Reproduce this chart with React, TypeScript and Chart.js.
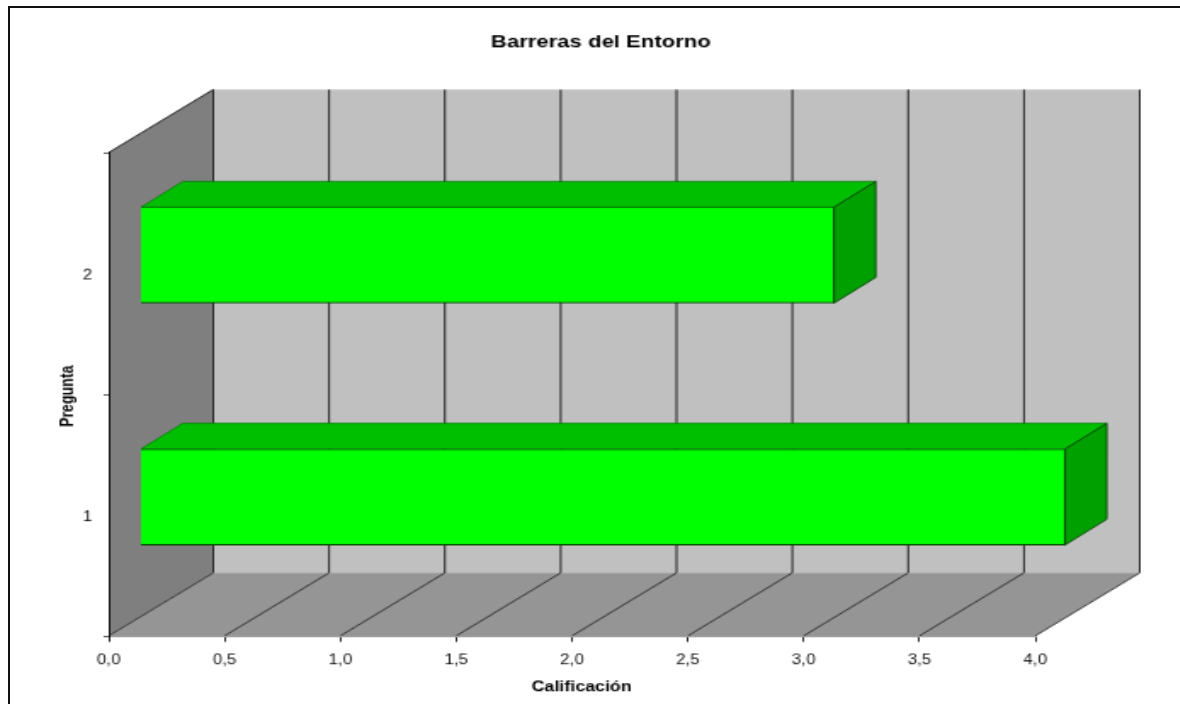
import React, { useEffect, useRef } from "react";
import { Chart, registerables } from "chart.js";

Chart.register(...registerables);

const categories = ["1", "2"];
const scores = [4, 3];
const categoryPositions = [1, 2];
const chartTitle = "Barreras del Entorno";
const xAxisTitle = "Calificación";
const yAxisTitle = "Pregunta";

const FONT = "'Liberation Sans', Arial, sans-serif";
const SX = 1.7;
const SY = 1.35;
const WALL_DX = 61.5;
const WALL_DY = 46.7;
const BAR_DX = 24.5;
const BAR_DY = 19;

const poly = (ctx: CanvasRenderingContext2D, pts: number[][], fill?: string, stroke?: string, lw = 0.9) => {
  ctx.beginPath();
  pts.forEach(([x, y], i) => (i ? ctx.lineTo(x, y) : ctx.moveTo(x, y)));
  ctx.closePath();
  if (fill) {
    ctx.fillStyle = fill;
    ctx.fill();
  }
  if (stroke) {
    ctx.strokeStyle = stroke;
    ctx.lineWidth = lw;
    ctx.stroke();
  }
};

const seg = (ctx: CanvasRenderingContext2D, a: number[], b: number[], color: string, lw = 1) => {
  ctx.beginPath();
  ctx.moveTo(a[0], a[1]);
  ctx.lineTo(b[0], b[1]);
  ctx.strokeStyle = color;
  ctx.lineWidth = lw;
  ctx.stroke();
};

// Moves what one of a scale's own draw steps paints, by a small offset.
const nudge = (scale: any, method: string, dx: number, dy: number) => {
  const flag = `_nudged_${method}`;
  if (scale[flag]) return;
  scale[flag] = true;
  const original = scale[method].bind(scale);
  scale[method] = (...args: any[]) => {
    scale.ctx.save();
    scale.ctx.translate(dx, dy);
    original(...args);
    scale.ctx.restore();
  };
};

const box3d = {
  id: "box3d",
  beforeDraw(chart: any) {
    const { ctx, chartArea: a, scales } = chart;
    const { left: l, right: r, top: t, bottom: b } = a;
    ctx.save();
    poly(ctx, [[l + WALL_DX, t - WALL_DY], [r + WALL_DX, t - WALL_DY], [r + WALL_DX, b - WALL_DY], [l + WALL_DX, b - WALL_DY]], "#c0c0c0");
    poly(ctx, [[l, t], [l + WALL_DX, t - WALL_DY], [l + WALL_DX, b - WALL_DY], [l, b]], "#7f7f7f");
    poly(ctx, [[l, b], [l + WALL_DX, b - WALL_DY], [r + WALL_DX, b - WALL_DY], [r, b]], "#959595");
    seg(ctx, [l, t], [l + WALL_DX, t - WALL_DY], "#222222");
    for (const tick of scales.x.ticks) {
      const x = scales.x.getPixelForValue(tick.value);
      seg(ctx, [x + WALL_DX, t - WALL_DY], [x + WALL_DX, b - WALL_DY], "#222222");
      seg(ctx, [x, b], [x + WALL_DX, b - WALL_DY], "#1a1a1a", 0.8);
    }
    ctx.restore();
  },
  afterDatasetsDraw(chart: any) {
    const { ctx } = chart;
    const edge = "#003a00";
    ctx.save();
    for (const bar of chart.getDatasetMeta(0).data) {
      const { x, y, base, height } = bar.getProps(["x", "y", "base", "height"], true);
      const top = y - height / 2;
      const bottom = y + height / 2;
      poly(ctx, [[base, top], [base + BAR_DX, top - BAR_DY], [x + BAR_DX, top - BAR_DY], [x, top]], "#00bf00", "#007a00", 0.7);
      poly(ctx, [[x, top], [x + BAR_DX, top - BAR_DY], [x + BAR_DX, bottom - BAR_DY], [x, bottom]], "#00a000", edge, 0.8);
    }
    ctx.restore();
  },
};

export default function App() {
  const ref = useRef<HTMLCanvasElement>(null);
  useEffect(() => {
    const chart = new Chart(ref.current as HTMLCanvasElement, {
      type: "bar",
      data: {
        labels: categories,
        datasets: [
          {
            label: yAxisTitle,
            data: scores.map((x, i) => ({ x, y: categoryPositions[i] })),
            xAxisID: "xBar",
            yAxisID: "yBar",
            backgroundColor: "#00ff00",
            borderColor: "#003a00",
            borderWidth: 1,
            barThickness: 71,
            clip: false,
          } as any,
        ],
      },
      options: {
        indexAxis: "y",
        responsive: false,
        animation: false,
        devicePixelRatio: 1,
        layout: { padding: 0 },
        plugins: {
          legend: { display: false },
          tooltip: { enabled: false },
          title: {
            display: true,
            text: chartTitle,
            color: "#000000",
            font: { family: FONT, size: 13, weight: "bold" },
            padding: { top: 23.3, bottom: 74.1 },
          },
        },
        scales: {
          x: {
            type: "linear",
            axis: "x",
            position: "bottom",
            min: 0,
            max: 4,
            afterFit: (s: any) => {
              s.height = 51;
            },
            afterUpdate: (s: any) => nudge(s, "drawTitle", 5.7, 0),
            title: {
              display: true,
              text: xAxisTitle,
              color: "#000000",
              font: { family: FONT, size: 10.5, weight: "bold" },
              padding: { top: 0, bottom: 6.7 },
            },
            ticks: {
              stepSize: 0.5,
              maxRotation: 0,
              autoSkip: false,
              padding: 7.5,
              color: "#111111",
              font: { family: FONT, size: 10 },
              callback: (v: any) => Number(v).toFixed(1).replace(".", ","),
            },
            grid: { drawOnChartArea: false, drawTicks: true, tickLength: 4.4, color: "#222222", offset: false },
            border: { display: true, color: "#a0a0a0" },
          },
          y: {
            type: "category",
            axis: "y",
            position: "left",
            reverse: true,
            offset: true,
            afterFit: (s: any) => {
              s.width = 51;
            },
            afterUpdate: (s: any) => {
              nudge(s, "drawLabels", 0, 2);
              nudge(s, "drawTitle", 0, 1.5);
            },
            title: {
              display: true,
              text: yAxisTitle,
              color: "#000000",
              font: { family: FONT, size: 10.5, weight: "bold" },
              padding: { top: 21, bottom: 0 },
            },
            ticks: { padding: 6.8, color: "#111111", font: { family: FONT, size: 10 } },
            grid: { drawOnChartArea: false, drawTicks: true, tickLength: 3, color: "#555555", offset: true },
            border: { display: true, color: "#111111" },
          },
          xBar: {
            type: "linear",
            axis: "x",
            display: false,
            min: -0.1398,
            max: 3.8705,
          },
          yBar: {
            type: "linear",
            axis: "y",
            position: "right",
            offset: false,
            min: 0.4258,
            max: 2.4236,
            afterFit: (s: any) => {
              s.width = 85;
            },
            ticks: { display: false },
            grid: { display: false, drawTicks: false },
            border: { display: false },
          },
        },
      } as any,
      plugins: [box3d],
    });
    return () => chart.destroy();
  }, []);

  return (
    <div style={{ position: "fixed", left: 0, top: 0, width: 1180, height: 704, overflow: "hidden", background: "#ffffff" }}>
      <canvas
        ref={ref}
        width={681}
        height={522}
        style={{
          position: "absolute",
          left: 22,
          top: 0,
          width: 681,
          height: 522,
          transform: `scale(${SX}, ${SY})`,
          transformOrigin: "0 0",
          filter: "blur(0.25px)",
        }}
      />
      <div
        style={{
          position: "absolute",
          left: 8,
          top: 6,
          width: 1172,
          height: 698,
          boxSizing: "border-box",
          borderLeft: "2px solid #111111",
          borderTop: "2px solid #111111",
          pointerEvents: "none",
        }}
      />
    </div>
  );
}
